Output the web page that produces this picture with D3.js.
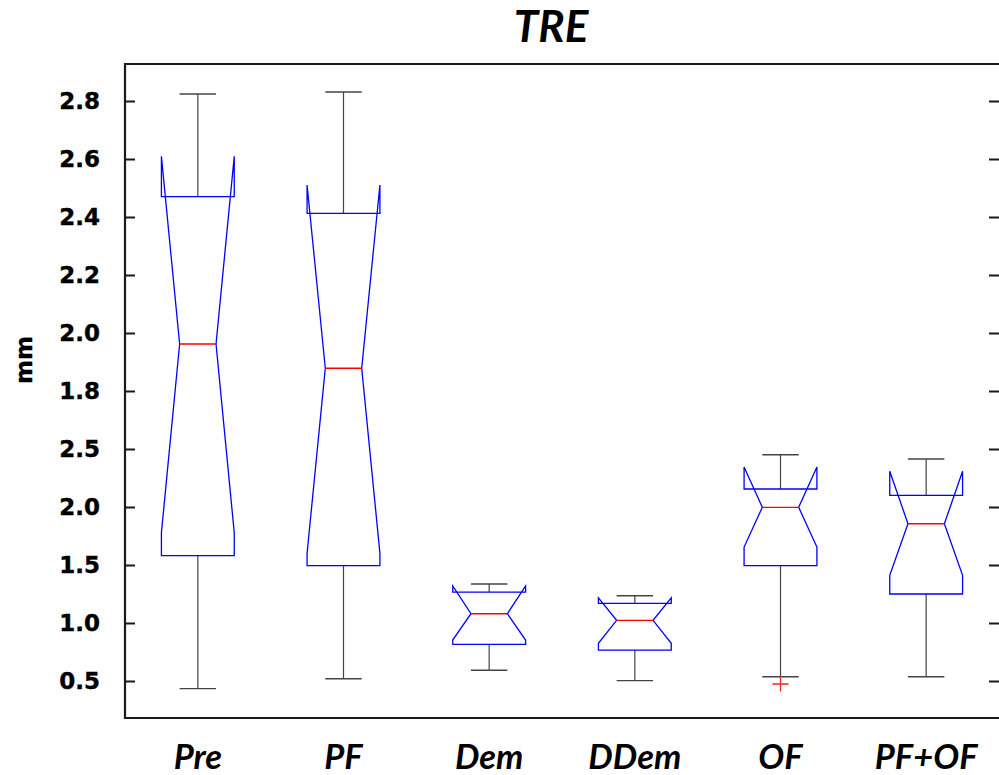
<!DOCTYPE html>
<html>
<head>
<meta charset="utf-8">
<script src="https://cdn.jsdelivr.net/npm/d3@7"></script>
<style>
  body { margin: 0; background: #fff; }
  svg { display: block; }
</style>
</head>
<body>
<svg id="chart" width="999" height="775"></svg>
<script>
// Notched box plot of TRE per method
const categories  = ["Pre", "PF", "Dem", "DDem", "OF", "PF+OF"];
const whiskerLow  = [0.434, 0.520, 0.592, 0.503, 0.537, 0.537];
const q1          = [1.580, 1.494, 0.816, 0.767, 1.494, 1.250];
const median      = [3.405, 3.196, 1.080, 1.023, 1.997, 1.856];
const q3          = [4.675, 4.532, 1.267, 1.170, 2.155, 2.101];
const whiskerHigh = [5.560, 5.578, 1.336, 1.235, 2.451, 2.414];
const notchLow    = [1.778, 1.601, 0.853, 0.825, 1.655, 1.411];
const notchHigh   = [5.023, 4.776, 1.319, 1.216, 2.345, 2.308];
const outlierCats = ["OF"];
const outlierVals = [0.474];
const tickValues  = [0.5, 1.0, 1.5, 2.0, 2.5, 3.0, 3.5, 4.0, 4.5, 5.0, 5.5];
const tickLabels  = ["0.5", "1.0", "1.5", "2.0", "2.5", "1.8", "2.0", "2.2", "2.4", "2.6", "2.8"];

const plot = { left: 125, right: 999, top: 64, bottom: 718 };
const svg = d3.select("#chart");

const x = d3.scaleBand().domain(categories).range([plot.left, plot.right]).padding(0);
const y = d3.scaleLinear().domain([0.181, 5.819]).range([plot.bottom, plot.top]);

const boxW = x.bandwidth() * 0.5;
const capW = boxW * 0.5;
const notchInset = boxW * 0.25;

const rows = categories.map((c, i) => ({
  cat: c, lo: whiskerLow[i], q1: q1[i], med: median[i], q3: q3[i],
  hi: whiskerHigh[i], nLo: notchLow[i], nHi: notchHigh[i]
}));

// Frame
svg.append("path")
  .attr("d", `M${plot.right + 2},${plot.top}H${plot.left}V${plot.bottom}H${plot.right + 2}`)
  .attr("fill", "none").attr("stroke", "#1a1a1a").attr("stroke-width", 2.2);

// Left axis: inward ticks with labels
const labelOf = d => tickLabels[tickValues.indexOf(d)];
const yAxisL = d3.axisLeft(y).tickValues(tickValues).tickFormat(labelOf)
  .tickSizeInner(-10).tickSizeOuter(0).tickPadding(25);
const gL = svg.append("g").attr("transform", `translate(${plot.left},0)`).call(yAxisL);
gL.select(".domain").remove();
gL.selectAll(".tick line").attr("stroke", "#1a1a1a").attr("stroke-width", 2);
gL.selectAll(".tick text")
  .attr("font-family", "'DejaVu Sans', sans-serif").attr("font-weight", "bold")
  .attr("font-size", 23).attr("fill", "#000")
  .attr("stroke", "#000").attr("stroke-width", 0.4);

// Right axis: inward ticks only
const yAxisR = d3.axisLeft(y).tickValues(tickValues).tickFormat("")
  .tickSizeInner(10).tickSizeOuter(0);
const gR = svg.append("g").attr("transform", `translate(${plot.right},0)`).call(yAxisR);
gR.select(".domain").remove();
gR.selectAll(".tick line").attr("stroke", "#1a1a1a").attr("stroke-width", 2);

// Boxes
const g = svg.append("g");
rows.forEach(r => {
  const cx = x(r.cat) + x.bandwidth() / 2;
  const L = cx - boxW / 2, R = cx + boxW / 2;
  const whisk = "#444";

  // whiskers
  g.append("line").attr("x1", cx).attr("x2", cx).attr("y1", y(r.q3)).attr("y2", y(r.hi))
    .attr("stroke", whisk).attr("stroke-width", 1.2);
  g.append("line").attr("x1", cx).attr("x2", cx).attr("y1", y(r.q1)).attr("y2", y(r.lo))
    .attr("stroke", whisk).attr("stroke-width", 1.2);
  g.append("line").attr("x1", cx - capW / 2).attr("x2", cx + capW / 2).attr("y1", y(r.hi)).attr("y2", y(r.hi))
    .attr("stroke", whisk).attr("stroke-width", 1.4);
  g.append("line").attr("x1", cx - capW / 2).attr("x2", cx + capW / 2).attr("y1", y(r.lo)).attr("y2", y(r.lo))
    .attr("stroke", whisk).attr("stroke-width", 1.4);

  // notched box outline
  const pts = [
    [L, y(r.q1)], [L, y(r.nLo)], [L + notchInset, y(r.med)], [L, y(r.nHi)], [L, y(r.q3)],
    [R, y(r.q3)], [R, y(r.nHi)], [R - notchInset, y(r.med)], [R, y(r.nLo)], [R, y(r.q1)]
  ];
  g.append("path").attr("d", d3.line()(pts) + "Z")
    .attr("fill", "none").attr("stroke", "#0000ff").attr("stroke-width", 1.3)
    .attr("stroke-linejoin", "miter");

  // median
  g.append("line").attr("x1", L + notchInset).attr("x2", R - notchInset)
    .attr("y1", y(r.med)).attr("y2", y(r.med))
    .attr("stroke", "#ff0000").attr("stroke-width", 1.4);
});

// Outliers
outlierCats.forEach((c, i) => {
  const cx = x(c) + x.bandwidth() / 2, cy = y(outlierVals[i]);
  g.append("path").attr("d", `M${cx - 8},${cy}H${cx + 8}M${cx},${cy - 7.5}V${cy + 7.5}`)
    .attr("stroke", "#ff2020").attr("stroke-width", 1.3).attr("fill", "none");
});

// Category labels
svg.append("g").selectAll("text").data(categories).join("text")
  .attr("x", d => x(d) + x.bandwidth() / 2).attr("y", 769)
  .attr("text-anchor", "middle")
  .attr("font-family", "Lato, sans-serif").attr("font-weight", "bold").attr("font-style", "italic")
  .attr("font-size", 34.5).attr("fill", "#000")
  .text(d => d);

// Title
svg.append("text").attr("x", 551).attr("y", 42).attr("text-anchor", "middle")
  .attr("font-family", "Lato, sans-serif").attr("font-weight", "bold").attr("font-style", "italic")
  .attr("font-size", 44).attr("fill", "#000").text("TRE");

// Y axis title
svg.append("text").attr("transform", "translate(32,360) rotate(-90)")
  .attr("text-anchor", "middle")
  .attr("font-family", "'DejaVu Sans', sans-serif").attr("font-weight", "bold")
  .attr("font-size", 23).attr("fill", "#000")
  .attr("stroke", "#000").attr("stroke-width", 0.4).text("mm");
</script>
</body>
</html>
